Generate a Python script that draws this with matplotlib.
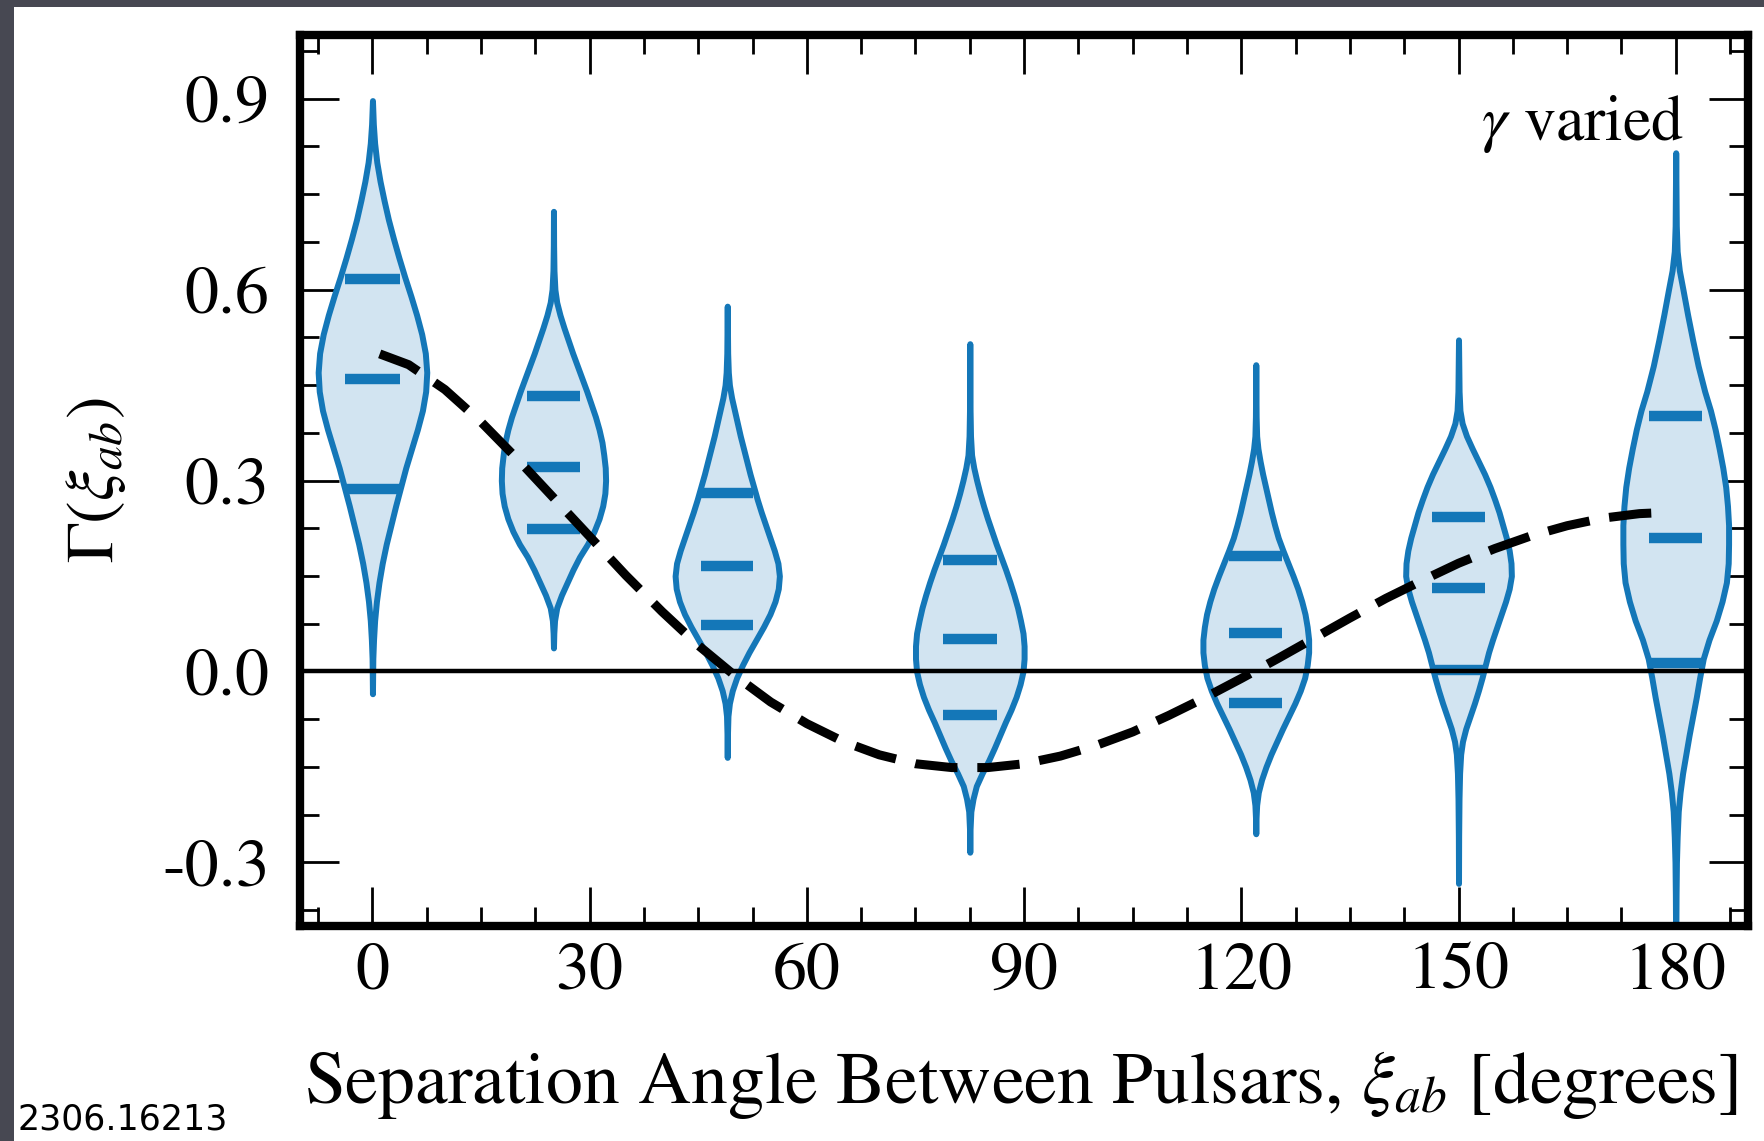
import numpy as np
import matplotlib.pyplot as plt
from matplotlib.patches import Rectangle
from matplotlib.ticker import MultipleLocator

plt.rcParams['font.family'] = 'STIXGeneral'
plt.rcParams['mathtext.fontset'] = 'stix'

# violin positions (degrees)
positions = [0, 25, 49, 82.5, 122, 150, 180]

# violin profiles: y coords and half-widths (degrees)
v1_y = [-0.035, 0.02, 0.05, 0.08, 0.11, 0.14, 0.17, 0.20, 0.23, 0.26, 0.29, 0.32, 0.35, 0.38, 0.41,
        0.44, 0.47, 0.50, 0.53, 0.56, 0.59, 0.62, 0.65, 0.68, 0.71, 0.74, 0.77, 0.80, 0.83, 0.86, 0.897]
v1_w = [0, 0.05, 0.15, 0.3, 0.55, 0.9, 1.35, 1.9, 2.55, 3.2, 3.9, 4.6, 5.4, 6.2, 6.9,
        7.35, 7.5, 7.3, 6.8, 6.1, 5.3, 4.45, 3.65, 2.9, 2.2, 1.6, 1.05, 0.6, 0.3, 0.12, 0]
v2_y = [0.037, 0.06, 0.08, 0.10, 0.12, 0.14, 0.16, 0.18, 0.20, 0.22, 0.24, 0.26, 0.28, 0.30, 0.32, 0.34,
        0.36, 0.38, 0.40, 0.42, 0.44, 0.46, 0.48, 0.50, 0.52, 0.54, 0.56, 0.58, 0.60, 0.63, 0.67, 0.723]
v2_w = [0, 0.05, 0.15, 0.45, 1.1, 1.9, 2.7, 3.6, 4.7, 5.6, 6.3, 6.8, 7.1, 7.2, 7.15, 6.95,
        6.7, 6.3, 5.8, 5.2, 4.6, 3.95, 3.3, 2.65, 2.05, 1.45, 0.9, 0.45, 0.2, 0.07, 0.02, 0]
v3_y = [-0.135, -0.10, -0.07, -0.05, -0.03, -0.01, 0.01, 0.03, 0.05, 0.07, 0.09, 0.11, 0.13, 0.15, 0.17,
        0.19, 0.21, 0.23, 0.25, 0.27, 0.29, 0.31, 0.33, 0.35, 0.37, 0.39, 0.41, 0.43, 0.45, 0.47, 0.50, 0.574]
v3_w = [0, 0.03, 0.1, 0.3, 0.7, 1.3, 2.1, 3.0, 4.0, 5.0, 5.9, 6.6, 7.05, 7.2, 7.0,
        6.5, 5.9, 5.3, 4.7, 4.15, 3.65, 3.15, 2.7, 2.25, 1.8, 1.4, 1.0, 0.6, 0.3, 0.15, 0.06, 0]
v4_y = [-0.284, -0.25, -0.22, -0.20, -0.18, -0.16, -0.14, -0.12, -0.10, -0.08, -0.06, -0.04, -0.02, 0.0,
        0.02, 0.04, 0.06, 0.08, 0.10, 0.12, 0.14, 0.16, 0.18, 0.20, 0.22, 0.24, 0.26, 0.28, 0.30, 0.32,
        0.34, 0.37, 0.41, 0.515]
v4_w = [0, 0.03, 0.15, 0.45, 0.9, 1.7, 2.6, 3.4, 4.15, 4.9, 5.7, 6.4, 6.95, 7.35,
        7.5, 7.5, 7.35, 7.0, 6.6, 6.1, 5.55, 4.95, 4.3, 3.65, 3.05, 2.45, 1.9, 1.4, 0.95, 0.55,
        0.25, 0.1, 0.04, 0]
v5_y = [-0.255, -0.23, -0.21, -0.19, -0.17, -0.15, -0.13, -0.11, -0.09, -0.07, -0.05, -0.03, -0.01, 0.01,
        0.03, 0.05, 0.07, 0.09, 0.11, 0.13, 0.15, 0.17, 0.19, 0.21, 0.23, 0.25, 0.27, 0.29, 0.31, 0.33,
        0.35, 0.37, 0.40, 0.482]
v5_w = [0, 0.04, 0.12, 0.35, 0.8, 1.4, 2.1, 2.9, 3.7, 4.55, 5.4, 6.15, 6.75, 7.1,
        7.3, 7.3, 7.1, 6.8, 6.35, 5.8, 5.15, 4.45, 3.75, 3.1, 2.6, 2.15, 1.75, 1.35, 0.95, 0.6,
        0.3, 0.12, 0.05, 0]
v6_y = [-0.333, -0.26, -0.20, -0.16, -0.13, -0.11, -0.09, -0.07, -0.05, -0.03, -0.01, 0.01, 0.03, 0.05,
        0.07, 0.09, 0.11, 0.13, 0.15, 0.17, 0.19, 0.21, 0.23, 0.25, 0.27, 0.29, 0.31, 0.33, 0.35, 0.37,
        0.39, 0.41, 0.44, 0.521]
v6_w = [0, 0.02, 0.07, 0.15, 0.3, 0.55, 1.0, 1.6, 2.2, 2.75, 3.25, 3.7, 4.15, 4.7,
        5.3, 5.9, 6.5, 7.0, 7.3, 7.25, 7.0, 6.6, 6.1, 5.6, 5.0, 4.35, 3.6, 2.75, 1.9, 1.1,
        0.5, 0.2, 0.08, 0]
v7_y = [-0.45, -0.35, -0.30, -0.26, -0.22, -0.19, -0.16, -0.13, -0.10, -0.07, -0.04, -0.01, 0.02, 0.05,
        0.08, 0.11, 0.14, 0.17, 0.20, 0.23, 0.26, 0.29, 0.32, 0.35, 0.38, 0.41, 0.44, 0.48, 0.52, 0.56,
        0.60, 0.63, 0.66, 0.70, 0.815]
v7_w = [0, 0.05, 0.1, 0.2, 0.35, 0.6, 0.95, 1.4, 1.85, 2.35, 2.85, 3.3, 3.8, 4.6,
        5.6, 6.4, 7.0, 7.25, 7.3, 7.3, 7.15, 6.9, 6.5, 6.0, 5.45, 4.8, 4.0, 3.1, 2.35, 1.65,
        1.0, 0.5, 0.2, 0.08, 0]

# the three bars in each violin (low, middle, high)
bars = [[0.286, 0.459, 0.616],
        [0.224, 0.321, 0.433],
        [0.073, 0.165, 0.281],
        [-0.069, 0.051, 0.175],
        [-0.050, 0.061, 0.181],
        [0.003, 0.131, 0.243],
        [0.013, 0.210, 0.402]]

# Hellings-Downs curve
hd_x = [1, 5, 10, 15, 20, 25, 30, 35, 40, 45, 50, 55, 60, 65, 70, 75, 80, 85, 90,
        95, 100, 105, 110, 115, 120, 125, 130, 135, 140, 145, 150, 155, 160, 165, 170, 175, 179]
hd_y = [0.499, 0.482, 0.443, 0.392, 0.334, 0.273, 0.212, 0.151, 0.094, 0.041, -0.006,
        -0.048, -0.082, -0.110, -0.131, -0.145, -0.151, -0.151, -0.145, -0.133, -0.116,
        -0.095, -0.069, -0.041, -0.011, 0.020, 0.052, 0.084, 0.115, 0.143, 0.170, 0.193,
        0.213, 0.229, 0.241, 0.248, 0.250]

profiles = [(v1_y, v1_w), (v2_y, v2_w), (v3_y, v3_w), (v4_y, v4_w),
            (v5_y, v5_w), (v6_y, v6_w), (v7_y, v7_w)]

blue = '#1477b8'
fill = '#d2e4f1'

fig = plt.figure(figsize=(17.64, 11.41), dpi=100, facecolor='#474852')
fig.patches.append(Rectangle((14 / 1764, 0), 1, (1141 - 7) / 1141, transform=fig.transFigure,
                             facecolor='white', edgecolor='none', zorder=-1))
ax = fig.add_axes([0.1701, 0.1884, 0.8209, 0.7809])

vpstats = []
widths = []
for (ys, ws), b in zip(profiles, bars):
    vpstats.append({'coords': np.array(ys), 'vals': np.array(ws),
                    'mean': b[1], 'median': b[1], 'min': ys[0], 'max': ys[-1],
                    'quantiles': [b[0], b[2]]})
    widths.append(2 * max(ws))

parts = ax.violin(vpstats, positions=positions, widths=widths,
                  showmeans=False, showextrema=False, showmedians=True)
for body in parts['bodies']:
    body.set_facecolor(fill)
    body.set_edgecolor(blue)
    body.set_linewidth(4.3)
    body.set_alpha(1)
    body.set_joinstyle('round')
    body.set_zorder(2)
for key in ['cmedians', 'cquantiles']:
    parts[key].set_color(blue)
    parts[key].set_linewidth(7.5)
    parts[key].set_linestyle('-')
    parts[key].set_zorder(2.5)

ax.axhline(0, color='black', lw=3.2, zorder=3)
ax.plot(hd_x, hd_y, color='black', lw=6.5, linestyle=(0, (4.7, 2.2)), zorder=4)

ax.set_xlim(-10, 190)
ax.set_ylim(-0.4, 1.0)
ax.xaxis.set_major_locator(MultipleLocator(30))
ax.xaxis.set_minor_locator(MultipleLocator(7.5))
ax.yaxis.set_major_locator(MultipleLocator(0.3))
ax.yaxis.set_minor_locator(MultipleLocator(0.075))
ax.set_xticks([0, 30, 60, 90, 120, 150, 180])
ax.set_xticklabels(['0', '30', '60', '90', '120', '150', '180'])
ax.set_yticks([-0.3, 0.0, 0.3, 0.6, 0.9])
ax.set_yticklabels(['-0.3', '0.0', '0.3', '0.6', '0.9'])

for sp in ax.spines.values():
    sp.set_linewidth(6)
ax.tick_params(which='both', direction='in', top=True, right=True, width=2, labelsize=49)
ax.tick_params(which='major', length=28)
ax.tick_params(which='minor', length=14)
ax.tick_params(axis='x', pad=12)
ax.tick_params(axis='y', pad=22)

ax.set_xlabel(r'Separation Angle Between Pulsars, $\xi_{ab}$ [degrees]', fontsize=53)
ax.xaxis.label.set_verticalalignment('baseline')
ax.xaxis.set_label_coords(0.498, -0.199)
ax.set_ylabel(r'$\Gamma(\xi_{ab})$', fontsize=49)
ax.yaxis.label.set_verticalalignment('center')
ax.yaxis.set_label_coords(-0.141, 0.5)

ax.text(0.956, 0.882, r'$\gamma$ varied', transform=ax.transAxes,
        ha='right', va='baseline', fontsize=46)

fig.text(17 / 1764, 1 - 1130 / 1141, '2306.16213', fontsize=25, family='DejaVu Sans',
         ha='left', va='baseline', color='black')

fig.savefig('out.png', dpi=100)
